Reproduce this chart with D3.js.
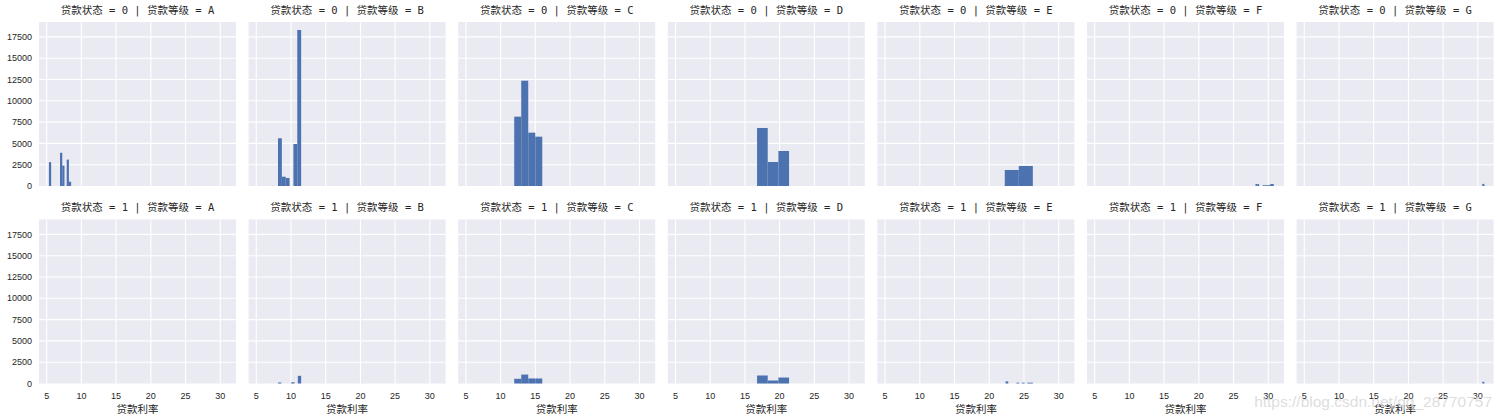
<!DOCTYPE html>
<html>
<head>
<meta charset="utf-8">
<style>
    body { margin: 0; background: white; }
    svg { display: block; }
    .tick-label { font-family: 'Liberation Sans', Arial, sans-serif; font-size: 9px; fill: #262626; }
    .facet-title { font-family: 'DejaVu Sans Mono', 'Noto Sans CJK SC', monospace; font-size: 10.5px; fill: #262626; }
    .x-title { font-family: 'Noto Sans CJK SC', sans-serif; font-size: 10.5px; fill: #262626; }
</style>
</head>
<body>
<svg width="1500" height="420"></svg>

<script src="https://d3js.org/d3.v7.min.js"></script>
<script>
// facet rows / columns
const statuses = [0, 1];
const grades = ["A", "B", "C", "D", "E", "F", "G"];

const xTicks = [5, 10, 15, 20, 25, 30];
const yTicks = [0, 2500, 5000, 7500, 10000, 12500, 15000, 17500];

// histogram bin range [lo, hi] for each grade, status = 0
const binRange0 = [[5.32, 8.52], [5.9, 11.46], [11.96, 16.0], [16.75, 21.36], [22.24, 26.28], [28.16, 30.8], [30.64, 30.94]];
// counts per bin, status = 0
const counts0 = [
    [2800, 0, 0, 0, 0, 3900, 2400, 0, 3100, 500],
    [0, 0, 0, 0, 5600, 1090, 940, 0, 4930, 18310],
    [8140, 12360, 6260, 5790],
    [6810, 2820, 4110],
    [1880, 2350],
    [230, 230, 0, 0, 100, 100, 100, 100, 230, 230],
    [250]
];

// status = 1
const binRange1 = [[5.32, 8.52], [6.7, 11.46], [11.96, 16.0], [16.75, 21.36], [22.35, 26.28], [28.16, 30.8], [30.64, 30.94]];
const counts1 = [
    [0],
    [0, 0, 0, 120, 0, 0, 0, 150, 0, 900],
    [550, 1050, 590, 590],
    [940, 350, 700],
    [250, 0, 0, 0, 100, 0, 100, 0, 100, 100],
    [0],
    [200]
];

const binRanges = [binRange0, binRange1];
const counts = [counts0, counts1];

const panelW = 197, panelH = 164;
const panelLeft0 = 39, panelStep = 209.6;
const rowTops = [22, 219.5];

const svg = d3.select("svg");

const x = d3.scaleLinear().domain([3.89, 32.27]).range([0, panelW]);
const y = d3.scaleLinear().domain([0, 19250]).range([panelH, 0]);

statuses.forEach((s, r) => {
    grades.forEach((g, c) => {
        let panel = svg.append("g")
            .attr("transform", "translate(" + (panelLeft0 + c * panelStep) + "," + rowTops[r] + ")");

        panel.append("rect")
            .attr("width", panelW)
            .attr("height", panelH)
            .attr("fill", "#EAEAF2");

        // grid
        panel.selectAll(".gx")
            .data(xTicks)
            .join("line")
            .attr("x1", d => x(d)).attr("x2", d => x(d))
            .attr("y1", 0).attr("y2", panelH)
            .attr("stroke", "white").attr("stroke-width", 1.1);

        panel.selectAll(".gy")
            .data(yTicks.slice(1))
            .join("line")
            .attr("x1", 0).attr("x2", panelW)
            .attr("y1", d => y(d)).attr("y2", d => y(d))
            .attr("stroke", "white").attr("stroke-width", 1.1);

        // bars
        let lo = binRanges[r][c][0], hi = binRanges[r][c][1];
        let cs = counts[r][c];
        let bw = (hi - lo) / cs.length;
        let bins = cs.map((v, i) => ({x0: lo + i * bw, x1: lo + (i + 1) * bw, n: v}));

        panel.selectAll(".bar")
            .data(bins.filter(d => d.n > 0))
            .join("rect")
            .attr("class", "bar")
            .attr("x", d => x(d.x0))
            .attr("width", d => x(d.x1) - x(d.x0))
            .attr("y", d => y(d.n))
            .attr("height", d => y(0) - y(d.n))
            .attr("fill", "#4C72B0");

        // facet title
        panel.append("text")
            .attr("class", "facet-title")
            .attr("x", panelW / 2)
            .attr("y", -8.5)
            .attr("text-anchor", "middle")
            .attr("xml:space", "preserve")
            .text("贷款状态 = " + s + " | 贷款等级 = " + g);

        // y tick labels only on first column
        if (c == 0) {
            panel.selectAll(".ylab")
                .data(yTicks)
                .join("text")
                .attr("class", "tick-label")
                .attr("x", -7)
                .attr("y", d => y(d))
                .attr("dy", "0.35em")
                .attr("text-anchor", "end")
                .text(d => d);
        }

        // x tick labels only on bottom row
        if (r == statuses.length - 1) {
            panel.selectAll(".xlab")
                .data(xTicks)
                .join("text")
                .attr("class", "tick-label")
                .attr("x", d => x(d))
                .attr("y", panelH + 15)
                .attr("text-anchor", "middle")
                .text(d => d);

            panel.append("text")
                .attr("class", "x-title")
                .attr("x", panelW / 2)
                .attr("y", panelH + 29.5)
                .attr("text-anchor", "middle")
                .text("贷款利率");
        }
    });
});

// watermark from the source image
svg.append("text")
    .attr("x", 1492)
    .attr("y", 407)
    .attr("text-anchor", "end")
    .style("font-family", "'Liberation Sans', Arial, sans-serif")
    .style("font-size", "15.5px")
    .style("fill", "#d7d7d7")
    .style("fill-opacity", 0.85)
    .text("https://blog.csdn.net/qq_28770757");
</script>
</body>
</html>
